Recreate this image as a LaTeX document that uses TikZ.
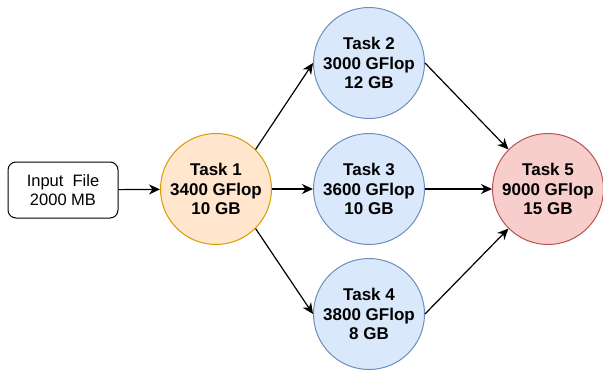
\documentclass[tikz,border=0pt]{standalone}
\usepackage{fontspec}
\setmainfont{Liberation Sans}
\usetikzlibrary{arrows.meta}

\definecolor{orangefill}{RGB}{255,230,204}
\definecolor{orangeline}{RGB}{215,155,0}
\definecolor{bluefill}{RGB}{218,232,252}
\definecolor{blueline}{RGB}{108,142,191}
\definecolor{redfill}{RGB}{248,206,204}
\definecolor{redline}{RGB}{184,84,80}

\tikzset{every picture/.style={line width=1pt}}
\tikzset{
  taskcircle/.style={circle, minimum size=111pt, inner sep=0pt, align=center,
    font=\bfseries\fontsize{17}{19.5}\selectfont},
  filebox/.style={draw, rounded corners=8pt, minimum width=110pt, minimum height=56pt,
    align=center, font=\fontsize{16.5}{19}\selectfont},
  flow/.style={line width=1.2pt, -{Stealth[length=11pt,width=10pt,inset=3.5pt]}}
}

\begin{document}
\begin{tikzpicture}[x=1pt,y=1pt,yscale=-1]
  \useasboundingbox (0,0) rectangle (603,370);

  \node [filebox] (input) at (63,190) {Input\ \ File\\2000 MB};

  \node [taskcircle, draw=orangeline, fill=orangefill] (task1) at (216,189) {Task 1\\3400 GFlop\\10 GB};
  \node [taskcircle, draw=blueline, fill=bluefill] (task2) at (369,63) {Task 2\\3000 GFlop\\12 GB};
  \node [taskcircle, draw=blueline, fill=bluefill] (task3) at (369,189) {Task 3\\3600 GFlop\\10 GB};
  \node [taskcircle, draw=blueline, fill=bluefill] (task4) at (369,314) {Task 4\\3800 GFlop\\8 GB};
  \node [taskcircle, draw=redline, fill=redfill] (task5) at (548,189) {Task 5\\9000 GFlop\\15 GB};

  \draw [flow] (input) -- (task1);
  \draw [flow] (task1.north east) -- (task2.west);
  \draw [flow] (task1) -- (task3);
  \draw [flow] (task1.south east) -- (task4.west);
  \draw [flow] (task2.east) -- (task5.north west);
  \draw [flow] (task3) -- (task5);
  \draw [flow] (task4.east) -- (task5.south west);

\end{tikzpicture}
\end{document}
